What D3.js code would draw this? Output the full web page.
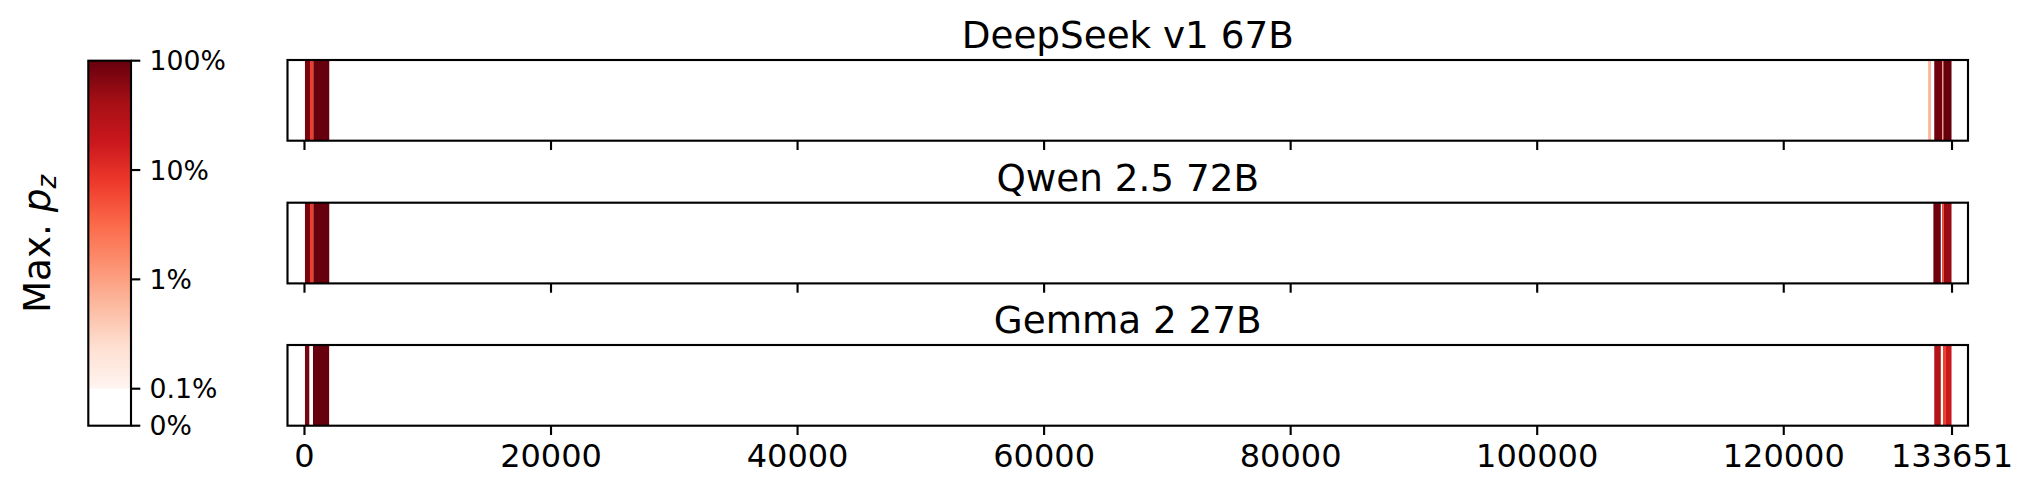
<!DOCTYPE html>
<html>
<head>
<meta charset="utf-8">
<script src="https://cdn.jsdelivr.net/npm/d3@7"></script>
<style>
  html, body { margin: 0; padding: 0; background: #fff; }
  svg { display: block; }
  text { font-family: "DejaVu Sans", sans-serif; fill: #000; }
</style>
</head>
<body>
<svg id="chart" width="2035" height="498"></svg>
<script>
// ---------- data ----------
const models = ["DeepSeek v1 67B", "Qwen 2.5 72B", "Gemma 2 27B"];
const vocabMax = 133651;

// token-range segments (start, end) and max p_z per model
const deepseekStart = [80, 490, 760, 131750, 132250, 132900, 132990];
const deepseekEnd   = [490, 760, 2050, 131990, 132900, 132990, 133651];
const deepseekValue = [0.8, 0.075, 1.0, 0.006, 0.9, 0.015, 1.0];

const qwenStart = [80, 490, 760, 132180, 132880, 133020];
const qwenEnd   = [490, 760, 2050, 132780, 133020, 133651];
const qwenValue = [0.8, 0.075, 1.0, 0.9, 0.06, 0.5];

const gemmaStart = [80, 730, 132250, 132960, 133200];
const gemmaEnd   = [430, 2040, 132780, 133200, 133651];
const gemmaValue = [0.8, 1.0, 0.3, 0.07, 0.18];

const xTicks = [0, 20000, 40000, 60000, 80000, 100000, 120000, 133651];
const cbTicks = [0, 0.001, 0.01, 0.1, 1];
const cbTickLabels = ["0%", "0.1%", "1%", "10%", "100%"];

// matplotlib "Reds" anchors
const redsColors = ["#fff5f0","#fee0d2","#fcbba1","#fc9272","#fb6a4a","#ef3b2c","#cb181d","#a50f15","#67000d"];

// ---------- layout ----------
const svg = d3.select("#chart");
const axLeft = 287.5, axRight = 1968;
const panelTops = [60, 202.7, 345];
const panelH = 80.7;
const lw = 2.13;          // 0.8pt at 192dpi
const tickLen = 9.3;

const x = d3.scaleLinear()
  .domain([-0.01 * vocabMax, 1.01 * vocabMax])
  .range([axLeft, axRight]);

const redsInterp = d3.scaleLinear()
  .domain(d3.range(redsColors.length).map(i => i / (redsColors.length - 1)))
  .range(redsColors)
  .interpolate(d3.interpolateRgb);

const logT = d3.scaleLog().domain([0.001, 1]).range([0, 1]).clamp(true);
function colorOf(v) {
  if (v < 0.001) return "#ffffff";
  return redsInterp(logT(v));
}

const series = [
  { start: deepseekStart, end: deepseekEnd, value: deepseekValue },
  { start: qwenStart, end: qwenEnd, value: qwenValue },
  { start: gemmaStart, end: gemmaEnd, value: gemmaValue }
];

series.forEach((s, i) => {
  const top = panelTops[i];
  const g = svg.append("g");
  const segs = s.start.map((st, j) => ({ st, en: s.end[j], v: s.value[j] }));

  g.append("rect")
    .attr("x", axLeft).attr("y", top)
    .attr("width", axRight - axLeft).attr("height", panelH)
    .attr("fill", "#fff");

  g.selectAll("rect.seg").data(segs).enter().append("rect")
    .attr("class", "seg")
    .attr("x", d => x(d.st))
    .attr("width", d => Math.max(0.5, x(d.en) - x(d.st)))
    .attr("y", top).attr("height", panelH)
    .attr("fill", d => colorOf(d.v));

  g.append("rect")
    .attr("x", axLeft).attr("y", top)
    .attr("width", axRight - axLeft).attr("height", panelH)
    .attr("fill", "none").attr("stroke", "#000").attr("stroke-width", lw);

  // x axis ticks
  const axis = d3.axisBottom(x).tickValues(xTicks).tickSize(tickLen).tickPadding(9.3)
    .tickFormat(i === 2 ? (d => String(d)) : (() => ""));
  const ag = g.append("g").attr("transform", `translate(0,${top + panelH})`).call(axis);
  ag.select(".domain").remove();
  ag.selectAll(".tick line").attr("stroke", "#000").attr("stroke-width", lw);
  ag.selectAll(".tick text")
    .attr("font-size", "32px")
    .attr("font-family", "DejaVu Sans")
    .attr("fill", "#000");

  // title
  g.append("text")
    .attr("x", (axLeft + axRight) / 2)
    .attr("y", top - 12)
    .attr("text-anchor", "middle")
    .attr("font-size", "37.3px")
    .text(models[i]);
});

// ---------- colorbar ----------
const cbL = 88.3, cbR = 131, cbTop = 60.7, cbLogBottom = 388.7, cbBottom = 425.7;
const cbLog = d3.scaleLog().domain([0.001, 1]).range([cbLogBottom, cbTop]);
const cbY = v => v === 0 ? cbBottom : cbLog(v);

const defs = svg.append("defs");
const grad = defs.append("linearGradient").attr("id", "redsGrad")
  .attr("x1", 0).attr("y1", 1).attr("x2", 0).attr("y2", 0);
grad.selectAll("stop").data(redsColors).enter().append("stop")
  .attr("offset", (d, i) => i / (redsColors.length - 1))
  .attr("stop-color", d => d);

svg.append("rect")
  .attr("x", cbL).attr("y", cbTop)
  .attr("width", cbR - cbL).attr("height", cbLogBottom - cbTop)
  .attr("fill", "url(#redsGrad)");
svg.append("rect")
  .attr("x", cbL).attr("y", cbLogBottom)
  .attr("width", cbR - cbL).attr("height", cbBottom - cbLogBottom)
  .attr("fill", "#fff");
svg.append("rect")
  .attr("x", cbL).attr("y", cbTop)
  .attr("width", cbR - cbL).attr("height", cbBottom - cbTop)
  .attr("fill", "none").attr("stroke", "#000").attr("stroke-width", lw);

const cbg = svg.append("g");
cbg.selectAll("line").data(cbTicks).enter().append("line")
  .attr("x1", cbR).attr("x2", cbR + tickLen)
  .attr("y1", d => cbY(d)).attr("y2", d => cbY(d))
  .attr("stroke", "#000").attr("stroke-width", lw);
cbg.selectAll("text").data(cbTicks).enter().append("text")
  .attr("x", cbR + tickLen + 9.3)
  .attr("y", d => cbY(d) + 9.7)
  .attr("font-size", "26.7px")
  .text((d, i) => cbTickLabels[i]);

// colorbar label
const lab = svg.append("text")
  .attr("transform", "translate(50,244) rotate(-90)")
  .attr("text-anchor", "middle")
  .attr("font-size", "37.3px");
lab.append("tspan").text("Max. ");
lab.append("tspan").attr("font-style", "italic").text("p");
lab.append("tspan").attr("font-style", "italic").attr("font-size", "26px").attr("dy", "6").text("z");
</script>
</body>
</html>
